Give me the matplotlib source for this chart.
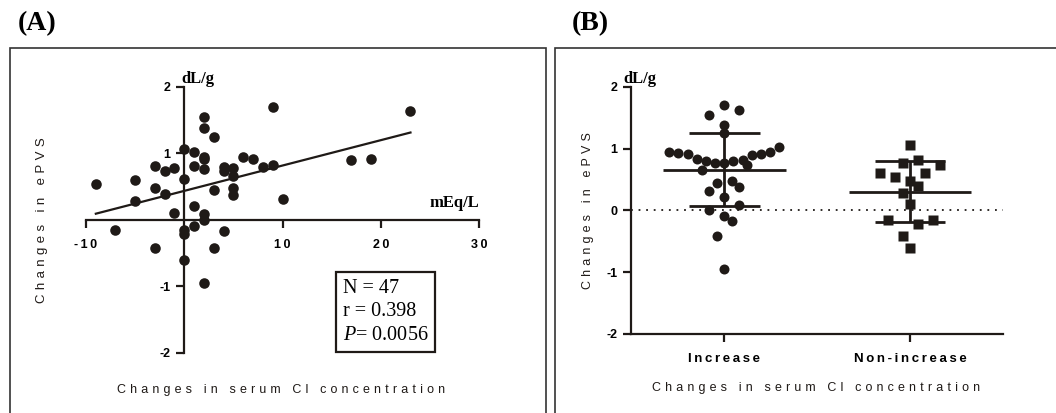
# Changes in ePVS vs changes in serum Cl (scatter + grouped dot plot)

import numpy as np
import matplotlib
matplotlib.use('Agg')
import matplotlib.pyplot as plt
from matplotlib.patches import Rectangle

W, H = 1056, 413

# panel A data
cl_change = [-9, -7, -5, -5, -3, -3, -3, -2, -2, -1, -1,
             0, 0, 0, 0, 0,
             1, 1, 1, 1,
             2, 2, 2, 2, 2, 2, 2, 2,
             3, 3, 3, 4, 4, 4, 5, 5, 5, 5,
             6, 7, 8, 9, 9, 10, 17, 19, 23]
epvs_change = [0.54, -0.16, 0.60, 0.28, 0.81, 0.48, -0.42, 0.73, 0.39, 0.77, 0.10,
               1.06, 0.61, -0.16, -0.22, -0.61,
               1.02, 0.81, 0.21, -0.09,
               1.54, 1.38, 0.91, 0.94, 0.76, 0.08, 0.0, -0.95,
               1.25, 0.45, -0.42, 0.80, 0.73, -0.17, 0.77, 0.65, 0.47, 0.37,
               0.95, 0.92, 0.80, 0.83, 1.70, 0.31, 0.90, 0.91, 1.63]

stats_lines = ['N = 47', 'r = 0.398', '$P$= 0.0056']

groups = ['Increase', 'Non-increase']
xticks_a = [-10, 10, 20, 30]
xtick_labels_a = ['-10', '10', '20', '30']
yticks_a = [-2, -1, 1, 2]
ytick_labels_a = ['-2', '-1', '1', '2']
yticks_b = [-2, -1, 0, 1, 2]
ytick_labels_b = ['-2', '-1', '0', '1', '2']

INK = '#1f1a17'
SANS = ['Liberation Sans', 'DejaVu Sans']
SERIF = ['Liberation Serif', 'DejaVu Serif']

plt.rcParams['mathtext.fontset'] = 'custom'
plt.rcParams['mathtext.it'] = 'Liberation Serif:italic'
plt.rcParams['mathtext.rm'] = 'Liberation Serif'


def spaced(s, gap='\u2004'):
    return gap.join(s)


def fx(x):
    return x / W


def fy(y):
    return 1 - y / H


def style_axes(ax):
    for side in ['top', 'right']:
        ax.spines[side].set_visible(False)
    for side in ['left', 'bottom']:
        ax.spines[side].set_linewidth(1.6)
        ax.spines[side].set_color(INK)
    ax.tick_params(direction='out', length=5.5, width=1.6, color=INK)


def dot_columns(vals, ax, center, bin_h=0.3, step=15, max_half=55):
    # prism-like layout: rows of close values spread sideways around the centre
    px_per_x = ax.transData.transform((1, 0))[0] - ax.transData.transform((0, 0))[0]
    rows = np.round(np.asarray(vals) / bin_h)
    xs = np.full(len(vals), float(center))
    for r in np.unique(rows):
        idx = np.where(rows == r)[0]
        idx = idx[np.argsort(np.asarray(vals)[idx])]
        n = len(idx)
        st = step if n < 2 else min(step, 2 * max_half / (n - 1))
        if n % 2:
            slots = [0] + [s * k for k in range(1, n) for s in (-1, 1)]
        else:
            slots = [s * (k - 0.5) for k in range(1, n) for s in (-1, 1)]
        for j, i in enumerate(idx):
            xs[i] = center + slots[j] * st / px_per_x
    return xs


fig = plt.figure(figsize=(W / 100, H / 100), dpi=100)

# panel frames
fig.add_artist(Rectangle((fx(10), fy(430)), fx(536), (430 - 48) / H, transform=fig.transFigure,
                         fill=False, lw=1.2, ec='#333333'))
fig.add_artist(Rectangle((fx(555), fy(430)), fx(520), (430 - 48) / H, transform=fig.transFigure,
                         fill=False, lw=1.2, ec='#333333'))
fig.text(fx(18), fy(24), '(A)', fontsize=20, weight='bold', family=SERIF, va='center')
fig.text(fx(572), fy(24), '(B)', fontsize=20, weight='bold', family=SERIF, va='center')

# ---- panel A: scatter with regression line
x = np.array(cl_change, dtype=float)
y = np.array(epvs_change)

axA = fig.add_axes([fx(86), fy(352.7), fx(479.3 - 86), (352.7 - 86.7) / H])
style_axes(axA)
axA.spines['left'].set_position(('data', 0))
axA.spines['bottom'].set_position(('data', 0))
axA.set_xlim(-10, 30)
axA.set_ylim(-2, 2)
axA.plot(x, y, 'o', color=INK, ms=7.6, mec='none', clip_on=False, zorder=3)

slope, icpt = np.polyfit(x, y, 1)
xx = np.array([x.min(), x.max()])
axA.plot(xx, slope * xx + icpt, color=INK, lw=1.6, zorder=2)

axA.set_xticks(xticks_a)
axA.set_xticklabels([spaced(t, '\u2009') for t in xtick_labels_a], family=SANS,
                    fontsize=9, weight='bold')
axA.set_yticks(yticks_a)
axA.set_yticklabels(ytick_labels_a, family=SANS, fontsize=9, weight='bold')
axA.tick_params(axis='x', pad=8.5)
axA.tick_params(axis='y', pad=4.3)

axA.text(-0.35, 2.0, 'dL/g', fontsize=12, weight='bold', family=SERIF, ha='left', va='bottom')
axA.text(30, 0.13, 'mEq/L', fontsize=12, weight='bold', family=SERIF, ha='right', va='bottom')

axA.text(0.653, 0.277, '\n'.join(stats_lines), transform=axA.transAxes, fontsize=14.5,
         family=SERIF, ha='left', va='top', linespacing=1.32,
         bbox=dict(boxstyle='square,pad=0.33', fc='white', ec=INK, lw=1.6))

fig.text(fx(281.5), fy(390), spaced('Changes in serum Cl concentration'), family=SANS,
         fontsize=9, ha='center', va='center', color=INK)
fig.text(fx(42), fy(220), spaced('Changes in ePVS'), family=SANS, fontsize=9.5,
         rotation=90, ha='center', va='center', color=INK)

# ---- panel B: dot plot with mean +/- SD
axB = fig.add_axes([fx(631.3), fy(334), fx(1003 - 631.3), (334 - 86.7) / H])
style_axes(axB)
axB.set_xlim(-0.5, 1.5)
axB.set_ylim(-2, 2)
axB.axhline(0, color=INK, lw=1.3, ls=(0, (1, 3.2)), zorder=1)

increase = y[x > 0]
non_increase = y[x <= 0]
for i, (vals, mk) in enumerate([(increase, 'o'), (non_increase, 's')]):
    xs = dot_columns(vals, axB, i)
    axB.plot(xs, vals, mk, color=INK, ms=7.2, mec='none', zorder=3)
    m, sd = vals.mean(), vals.std(ddof=1)
    axB.hlines(m, i - 0.33, i + 0.33, color=INK, lw=2, zorder=4)
    axB.hlines([m - sd, m + sd], i - 0.19, i + 0.19, color=INK, lw=2, zorder=4)
    axB.vlines(i, m - sd, m + sd, color=INK, lw=2, zorder=4)

axB.set_xticks(range(len(groups)))
axB.set_xticklabels([spaced(g, '\u2009') for g in groups], family=SANS, fontsize=9.5,
                    weight='bold')
axB.set_yticks(yticks_b)
axB.set_yticklabels(ytick_labels_b, family=SANS, fontsize=9, weight='bold')
axB.tick_params(axis='x', pad=8)
axB.tick_params(axis='y', pad=4.7)
axB.text(-0.54, 2.0, 'dL/g', fontsize=12, weight='bold', family=SERIF, ha='left', va='bottom')

fig.text(fx(816), fy(388), spaced('Changes in serum Cl concentration'), family=SANS,
         fontsize=9, ha='center', va='center', color=INK)
fig.text(fx(588), fy(211), spaced('Changes in ePVS'), family=SANS, fontsize=9,
         rotation=90, ha='center', va='center', color=INK)

fig.savefig('out.png', dpi=100)
